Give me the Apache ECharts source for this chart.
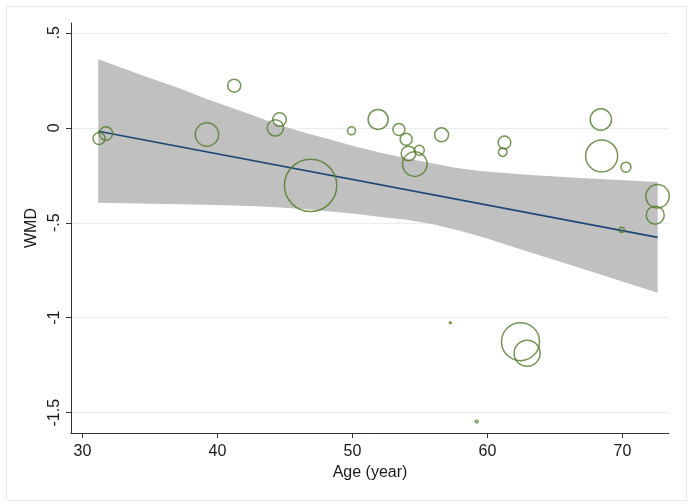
<!DOCTYPE html>
<html><head><meta charset="utf-8">
<script src="https://cdn.jsdelivr.net/npm/echarts@6/dist/echarts.min.js"></script>
<style>html,body{margin:0;padding:0;background:#fff}#c{width:690px;height:504px}</style>
</head><body><div id="c"></div>
<script>
// Study-level data (age, WMD, relative study weight)
const studyAge = [31.23, 31.74, 39.22, 41.24, 44.29, 44.60, 46.90, 49.93, 51.90, 53.44, 53.98, 54.15, 54.95, 54.62, 56.60, 61.26, 61.13, 68.40, 68.46, 70.26, 72.60, 72.43, 69.94, 57.25, 62.45, 62.94, 59.20];
const studyWMD = [-0.056, -0.030, -0.035, 0.222, 0.000, 0.044, -0.303, -0.016, 0.044, -0.009, -0.060, -0.135, -0.118, -0.191, -0.037, -0.077, -0.128, 0.044, -0.148, -0.207, -0.360, -0.460, -0.537, -1.026, -1.126, -1.187, -1.547];
const studyWeight = [36, 45, 137, 42, 67, 46, 686, 16, 100, 36, 36, 53, 25, 151, 49, 40, 18, 114, 256, 25, 137, 81, 7, 1, 361, 169, 2];

// Fitted meta-regression line
const fitAge = [31.17, 72.61];
const fitWMD = [-0.018, -0.577];

// 95% confidence band
const bandAge = [31.17, 34.20, 37.24, 39.20, 42.43, 44.66, 46.88, 48.37, 50.20, 52.08, 54.00, 55.79, 57.60, 59.50, 63.20, 66.92, 72.61];
const bandUpper = [0.361, 0.282, 0.207, 0.152, 0.072, 0.012, -0.034, -0.062, -0.098, -0.131, -0.160, -0.185, -0.210, -0.228, -0.249, -0.264, -0.285];
const bandLower = [-0.395, -0.398, -0.402, -0.405, -0.412, -0.420, -0.430, -0.440, -0.453, -0.469, -0.484, -0.505, -0.535, -0.572, -0.656, -0.740, -0.868];

// Axis ticks
const xTicks = [30, 40, 50, 60, 70];
const yTicks = [0.5, 0, -0.5, -1, -1.5];
const yTickLabels = ['.5', '0', '-.5', '-1', '-1.5'];

const FONT = '"Liberation Sans", Arial, sans-serif';
const chart = echarts.init(document.getElementById('c'), null, {renderer: 'canvas'});

const scatterData = studyAge.map((a, i) => [a, studyWMD[i], studyWeight[i]]);
const fitData = fitAge.map((a, i) => [a, fitWMD[i]]);
const bandPoly = bandAge.map((a, i) => [a, bandUpper[i]])
  .concat(bandAge.map((a, i) => [a, bandLower[i]]).reverse());

chart.setOption({
  animation: false,
  backgroundColor: '#fff',
  graphic: [{
    type: 'rect', left: 4, top: 4, shape: {width: 680, height: 494},
    style: {fill: 'none', stroke: '#e4eaee', lineWidth: 1}, silent: true
  }],
  grid: {left: 71, right: 21, top: 23, bottom: 71},
  xAxis: {
    type: 'value', min: 29.15, max: 73.45,
    name: 'Age (year)', nameLocation: 'middle', nameGap: 28,
    nameTextStyle: {fontFamily: FONT, fontSize: 16, color: '#1a1a1a'},
    axisLine: {show: true, onZero: false, lineStyle: {color: '#333', width: 1}},
    axisTick: {show: true, length: 5, customValues: xTicks, lineStyle: {color: '#333'}},
    axisLabel: {customValues: xTicks, margin: 11, fontFamily: FONT, fontSize: 16, color: '#1a1a1a'},
    splitLine: {show: false}
  },
  yAxis: {
    type: 'value', min: -1.607, max: 0.552,
    name: 'WMD', nameLocation: 'middle', nameGap: 28,
    nameTextStyle: {fontFamily: FONT, fontSize: 16, color: '#1a1a1a'},
    axisLine: {show: true, onZero: false, lineStyle: {color: '#333', width: 1}},
    axisTick: {show: true, length: 5, customValues: yTicks, lineStyle: {color: '#333'}},
    axisLabel: {
      customValues: yTicks, rotate: 90, margin: 8, fontFamily: FONT, fontSize: 16, color: '#1a1a1a',
      formatter: v => { const i = yTicks.findIndex(t => Math.abs(t - v) < 1e-9); return i >= 0 ? yTickLabels[i] : ''; }
    },
    splitLine: {show: true, lineStyle: {color: '#e6eef1', width: 1}}
  },
  series: [
    {
      type: 'custom', silent: true, z: 1,
      data: [0],
      renderItem: (params, api) => ({
        type: 'polygon',
        shape: {points: bandPoly.map(p => api.coord(p))},
        style: {fill: '#c0c0c0', stroke: null}
      })
    },
    {
      type: 'line', data: fitData, symbol: 'none', z: 2, silent: true,
      lineStyle: {color: '#1c4677', width: 1.6}
    },
    {
      type: 'scatter', data: scatterData, z: 3, silent: true,
      symbol: 'circle',
      symbolSize: v => 2 * Math.sqrt(v[2]),
      itemStyle: {color: 'rgba(0,0,0,0)', borderColor: '#527a28', borderWidth: 1.5}
    }
  ]
});
</script>
</body></html>
